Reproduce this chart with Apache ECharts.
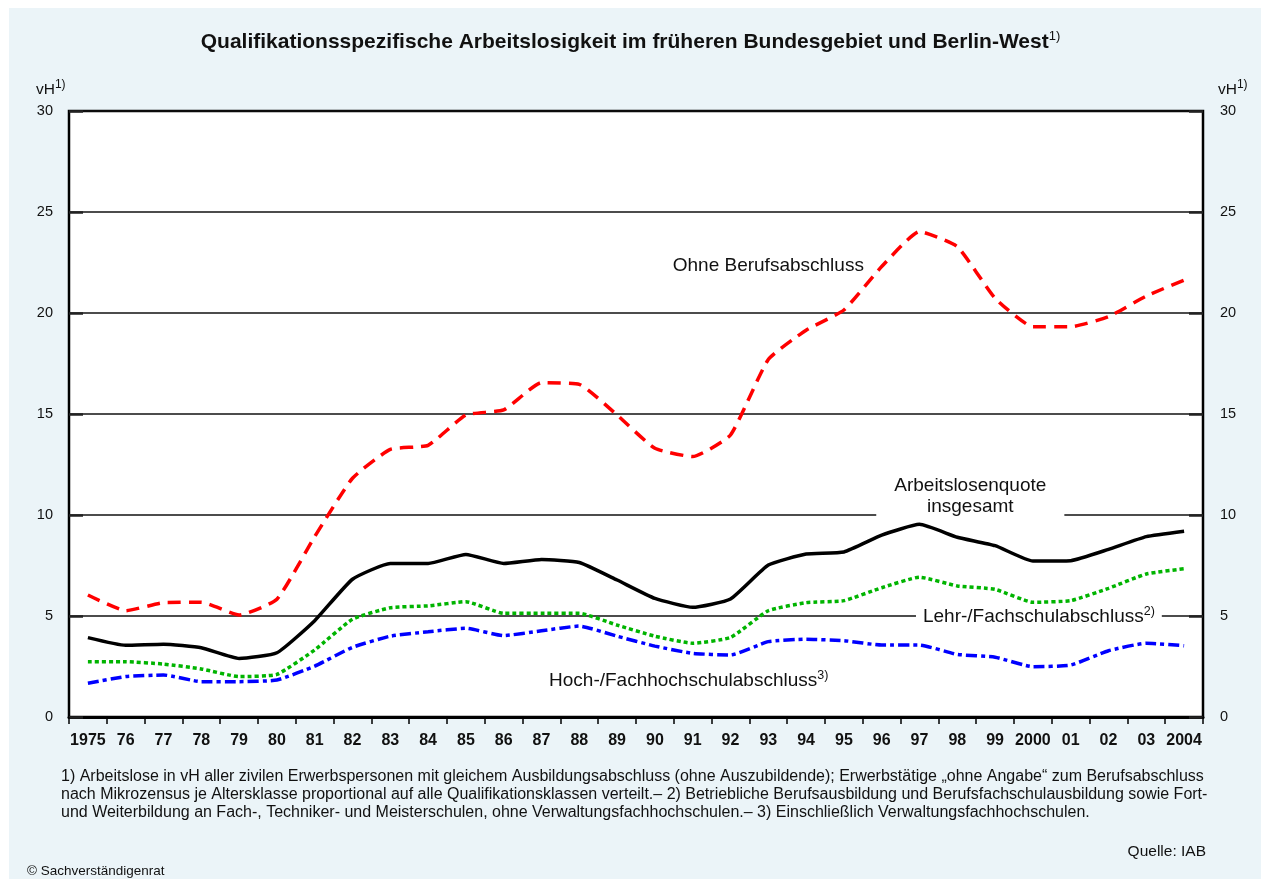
<!DOCTYPE html>
<html>
<head>
<meta charset="utf-8">
<title>Qualifikationsspezifische Arbeitslosigkeit</title>
<script src="https://cdn.jsdelivr.net/npm/echarts@6/dist/echarts.min.js"></script>
<style>
  html, body { margin: 0; padding: 0; background: #fff; }
  #main { width: 1261px; height: 879px; }
</style>
</head>
<body>
<div id="main"></div>
<script type="text/javascript">
// Jahre (Achsenbeschriftung wie im Original)
var jahre = ['1975','76','77','78','79','80','81','82','83','84','85','86','87','88','89',
             '90','91','92','93','94','95','96','97','98','99','2000','01','02','03','2004'];

// Arbeitslosenquoten in vH
var ohneBerufsabschluss = [6.04,5.26,5.66,5.68,5.05,5.83,8.93,11.82,13.25,13.45,14.95,15.2,16.55,16.47,14.95,
                           13.3,12.89,13.96,17.7,19.15,20.15,22.3,24.03,23.28,20.73,19.32,19.32,19.82,20.84,21.63];
var insgesamt = [3.93,3.55,3.6,3.43,2.9,3.18,4.77,6.82,7.6,7.6,8.05,7.6,7.8,7.65,6.78,
                 5.87,5.43,5.84,7.52,8.07,8.17,9.0,9.54,8.9,8.48,7.72,7.74,8.3,8.93,9.2];
var lehrFachschule = [2.74,2.74,2.62,2.38,2.0,2.11,3.32,4.84,5.41,5.5,5.71,5.13,5.13,5.13,4.55,
                      4.0,3.65,3.94,5.26,5.66,5.76,6.4,6.92,6.49,6.32,5.68,5.76,6.37,7.08,7.34];
var hochschule = [1.67,2.0,2.08,1.75,1.75,1.83,2.52,3.45,4.0,4.22,4.39,4.03,4.27,4.5,4.0,
                  3.51,3.15,3.07,3.73,3.85,3.78,3.56,3.56,3.1,2.96,2.49,2.57,3.28,3.65,3.53];

var yTicks = [0, 5, 10, 15, 20, 25, 30];

var FONT = "'Liberation Sans', Arial, Helvetica, sans-serif";
var sup = { fontSize: 12.5, fontFamily: FONT, color: '#111', padding: [0, 0, 10, 0] };
var txt = { fontSize: 19, fontFamily: FONT, color: '#111' };

// Beschriftung an einer Linie (weißer Kasten über den Gitterlinien)
function beschriftung(jahr, wert, text, offset, pad, extra) {
    var lbl = {
        show: true,
        position: 'inside',
        formatter: text,
        offset: offset,
        backgroundColor: '#fff',
        padding: pad,
        rich: { t: txt, s: sup },
        fontSize: 19, fontFamily: FONT, color: '#111'
    };
    for (var k in extra) lbl[k] = extra[k];
    return {
        symbol: 'circle', symbolSize: 1,
        itemStyle: { color: 'rgba(0,0,0,0)' },
        silent: true,
        z: 20,
        data: [{ coord: [jahr, wert], label: lbl }]
    };
}

var myChart = echarts.init(document.getElementById('main'));

myChart.setOption({
    animation: false,
    backgroundColor: 'transparent',
    graphic: [
        { type: 'rect', z: -10, shape: { x: 9, y: 8, width: 1252, height: 871 }, style: { fill: '#ebf4f8' } },
        { type: 'text', left: 'center', top: 30, style: {
            text: '{b|Qualifikationsspezifische Arbeitslosigkeit im früheren Bundesgebiet und Berlin-West}{s|1)}',
            rich: { b: { fontSize: 21, fontWeight: 'bold', fontFamily: FONT, fill: '#111' },
                    s: { fontSize: 13, fontFamily: FONT, fill: '#111', padding: [0, 0, 12, 0] } } } },
        { type: 'text', left: 36, top: 79, style: {
            text: '{a|vH}{s|1)}',
            rich: { a: { fontSize: 15.5, fontFamily: FONT, fill: '#111' }, s: { fontSize: 12, fontFamily: FONT, fill: '#111', padding: [0, 0, 10, 0] } } } },
        { type: 'text', left: 1218, top: 79, style: {
            text: '{a|vH}{s|1)}',
            rich: { a: { fontSize: 15.5, fontFamily: FONT, fill: '#111' }, s: { fontSize: 12, fontFamily: FONT, fill: '#111', padding: [0, 0, 10, 0] } } } },
        { type: 'text', left: 61, top: 768, style: {
            text: '1) Arbeitslose in vH aller zivilen Erwerbspersonen mit gleichem Ausbildungsabschluss (ohne Auszubildende); Erwerbstätige „ohne Angabe“ zum Berufsabschluss\n' +
                  'nach Mikrozensus je Altersklasse proportional auf alle Qualifikationsklassen verteilt.– 2) Betriebliche Berufsausbildung und Berufsfachschulausbildung sowie Fort-\n' +
                  'und Weiterbildung an Fach-, Techniker- und Meisterschulen, ohne Verwaltungsfachhochschulen.– 3) Einschließlich Verwaltungsfachhochschulen.',
            fontSize: 16, lineHeight: 18, fontFamily: FONT, fill: '#111' } },
        { type: 'text', right: 55, top: 844, style: { text: 'Quelle: IAB', fontSize: 15.5, fontFamily: FONT, fill: '#111' } },
        { type: 'text', left: 27, top: 864, style: { text: '© Sachverständigenrat', fontSize: 13.5, fontFamily: FONT, fill: '#111' } }
    ],
    grid: {
        left: 69, right: 58, top: 111, bottom: 162,
        show: true, backgroundColor: '#fff', borderColor: '#000', borderWidth: 2.5
    },
    xAxis: {
        type: 'category',
        data: jahre,
        boundaryGap: true,
        axisLine: { show: true, lineStyle: { color: '#000', width: 3 } },
        axisTick: { show: true, interval: 0, length: 7, lineStyle: { color: '#000', width: 1.5 } },
        axisLabel: { interval: 0, margin: 16, fontSize: 16, fontWeight: 'bold', fontFamily: FONT, color: '#111' },
        splitLine: { show: false }
    },
    yAxis: [{
        type: 'value', min: 0, max: 30, interval: 5, position: 'left',
        axisLine: { show: false },
        axisTick: { show: true, inside: true, length: 14, lineStyle: { color: '#222', width: 2.5 } },
        axisLabel: { margin: 16, fontSize: 14.5, fontFamily: FONT, color: '#111',
                     formatter: function (v) { return yTicks.indexOf(v) >= 0 ? v : ''; } },
        splitLine: { show: true, lineStyle: { color: '#111', width: 1.5 } }
    }, {
        type: 'value', min: 0, max: 30, interval: 5, position: 'right',
        axisLine: { show: false },
        axisTick: { show: true, inside: true, length: 14, lineStyle: { color: '#222', width: 2.5 } },
        axisLabel: { margin: 17, fontSize: 14.5, fontFamily: FONT, color: '#111' },
        splitLine: { show: false }
    }],
    series: [{
        name: 'Ohne Berufsabschluss',
        type: 'line', data: ohneBerufsabschluss, smooth: 0.15, symbol: 'none', z: 3,
        lineStyle: { color: '#ff0000', width: 3.5, type: [13, 8], cap: 'butt' },
        markPoint: beschriftung('93', 22.33, '{t|Ohne Berufsabschluss}', [0, 0], 0, { backgroundColor: 'transparent' })
    }, {
        name: 'Arbeitslosenquote insgesamt',
        type: 'line', data: insgesamt, smooth: 0.15, symbol: 'none', z: 4,
        lineStyle: { color: '#000', width: 3.5 },
        markPoint: beschriftung('98', 10.9, 'Arbeitslosenquote\ninsgesamt', [13, 0], [3, 18, 4, 18], { lineHeight: 21, align: 'center' })
    }, {
        name: 'Lehr-/Fachschulabschluss',
        type: 'line', data: lehrFachschule, smooth: 0.15, symbol: 'none', z: 3,
        lineStyle: { color: '#00b400', width: 3.5, type: [4, 3], cap: 'butt' },
        markPoint: beschriftung('2000', 4.95, '{t|Lehr-/Fachschulabschluss}{s|2)}', [6, 0], [0, 7, 0, 7], {})
    }, {
        name: 'Hoch-/Fachhochschulabschluss',
        type: 'line', data: hochschule, smooth: 0.15, symbol: 'none', z: 3,
        lineStyle: { color: '#0000ff', width: 3.5, type: [11, 4, 4, 4], cap: 'butt' },
        markPoint: beschriftung('91', 1.8, '{t|Hoch-/Fachhochschulabschluss}{s|3)}', [-4, 0], 0, { backgroundColor: 'transparent' })
    }]
});
</script>
</body>
</html>
